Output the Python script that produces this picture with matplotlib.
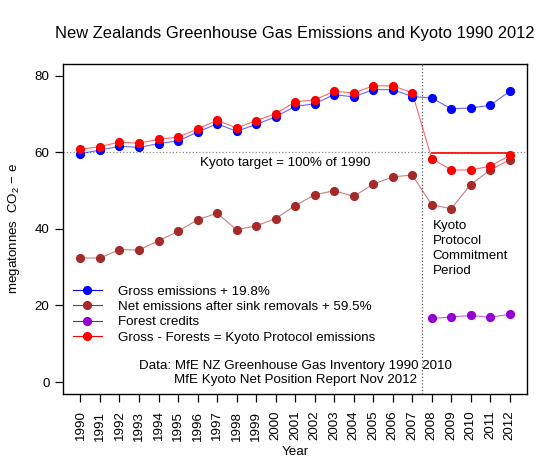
import matplotlib
matplotlib.use('Agg')
import matplotlib.pyplot as plt

plt.rcParams['font.family'] = ['Liberation Sans', 'DejaVu Sans']
plt.rcParams['mathtext.fontset'] = 'custom'
plt.rcParams['mathtext.rm'] = 'Liberation Sans'
plt.rcParams['mathtext.it'] = 'Liberation Sans:italic'

# data (megatonnes CO2-e)
years = list(range(1990, 2013))
gross = [59.7, 60.6, 61.6, 61.3, 62.3, 63.0, 65.3, 67.5, 65.5, 67.3, 69.3, 72.0,
         72.7, 75.1, 74.5, 76.4, 76.4, 74.6, 74.2, 71.4, 71.6, 72.3, 76.0]
net = [32.4, 32.4, 34.6, 34.5, 36.9, 39.4, 42.4, 44.1, 39.8, 40.8, 42.7, 46.1,
       48.9, 50.0, 48.5, 51.7, 53.6, 54.1, 46.3, 45.3, 51.6, 55.4, 58.1]
credit_years = [2008, 2009, 2010, 2011, 2012]
forest_credits = [16.6, 17.0, 17.4, 16.9, 17.7]
kyoto = [60.8, 61.5, 62.7, 62.4, 63.4, 64.0, 66.1, 68.4, 66.4, 68.3, 70.1, 73.2,
         73.7, 76.0, 75.5, 77.4, 77.4, 75.6, 58.4, 55.4, 55.4, 56.4, 59.2]
target = 59.8

fs = 9.6
fig = plt.figure(figsize=(5.6, 4.74), dpi=100)
ax = fig.add_axes([0.113, 0.169, 0.828, 0.696])


def series(x, y, col, label):
    ax.plot(x, y, '-', color=col, lw=0.8, alpha=0.6, zorder=3)
    ax.plot(x, y, 'o', color=col, ms=5.6, mec=col, zorder=4)
    # legend proxy
    ax.plot([], [], '-o', color=col, lw=0.8, ms=5.6, label=label)


ax.axhline(60, color='#888888', ls=':', lw=0.9, zorder=1)
ax.axvline(2007.5, color='#555555', ls=':', lw=0.9, zorder=1)
ax.plot([2008, 2012], [target, target], color='red', lw=1.2, zorder=2)

series(years, gross, 'blue', 'Gross emissions + 19.8%')
series(years, net, '#A52A2A', 'Net emissions after sink removals + 59.5%')
series(credit_years, forest_credits, '#9400D3', 'Forest credits')
series(years, kyoto, 'red', 'Gross - Forests = Kyoto Protocol emissions')

ax.set_xlim(1989.12, 2012.88)
ax.set_ylim(-3.1, 83.1)
ax.set_xticks(years)
ax.set_xticklabels([str(y) for y in years], rotation=90, fontsize=fs)
ax.set_yticks([0, 20, 40, 60, 80])
ax.tick_params(axis='y', labelsize=fs, length=6, width=0.9, pad=4)
ax.tick_params(axis='x', length=6, width=0.9, pad=6)
for s in ax.spines.values():
    s.set_linewidth(1.0)

ax.set_title('New Zealands Greenhouse Gas Emissions and Kyoto 1990 2012',
             fontsize=11.9, pad=19)
ax.set_xlabel('Year', fontsize=fs, labelpad=4)
ax.set_ylabel(r'megatonnes  CO$_2$ $-$ e', fontsize=fs, labelpad=9)

ax.text(2000.5, 57.3, 'Kyoto target = 100% of 1990', fontsize=fs,
        ha='center', va='center')
ax.text(2008.05, 42.3, 'Kyoto\nProtocol\nCommitment\nPeriod', fontsize=fs,
        ha='left', va='top', linespacing=1.33)
ax.text(2001.0, 2.4, 'Data: MfE NZ Greenhouse Gas Inventory 1990 2010\n'
        'MfE Kyoto Net Position Report Nov 2012', fontsize=fs,
        ha='center', va='center', linespacing=1.2)

ax.legend(loc='upper left', bbox_to_anchor=(0.0, 0.357), frameon=False,
          fontsize=fs, handlelength=2.2, handletextpad=1.2,
          labelspacing=0.22, borderaxespad=0.3)

fig.savefig('out.png', dpi=100)
